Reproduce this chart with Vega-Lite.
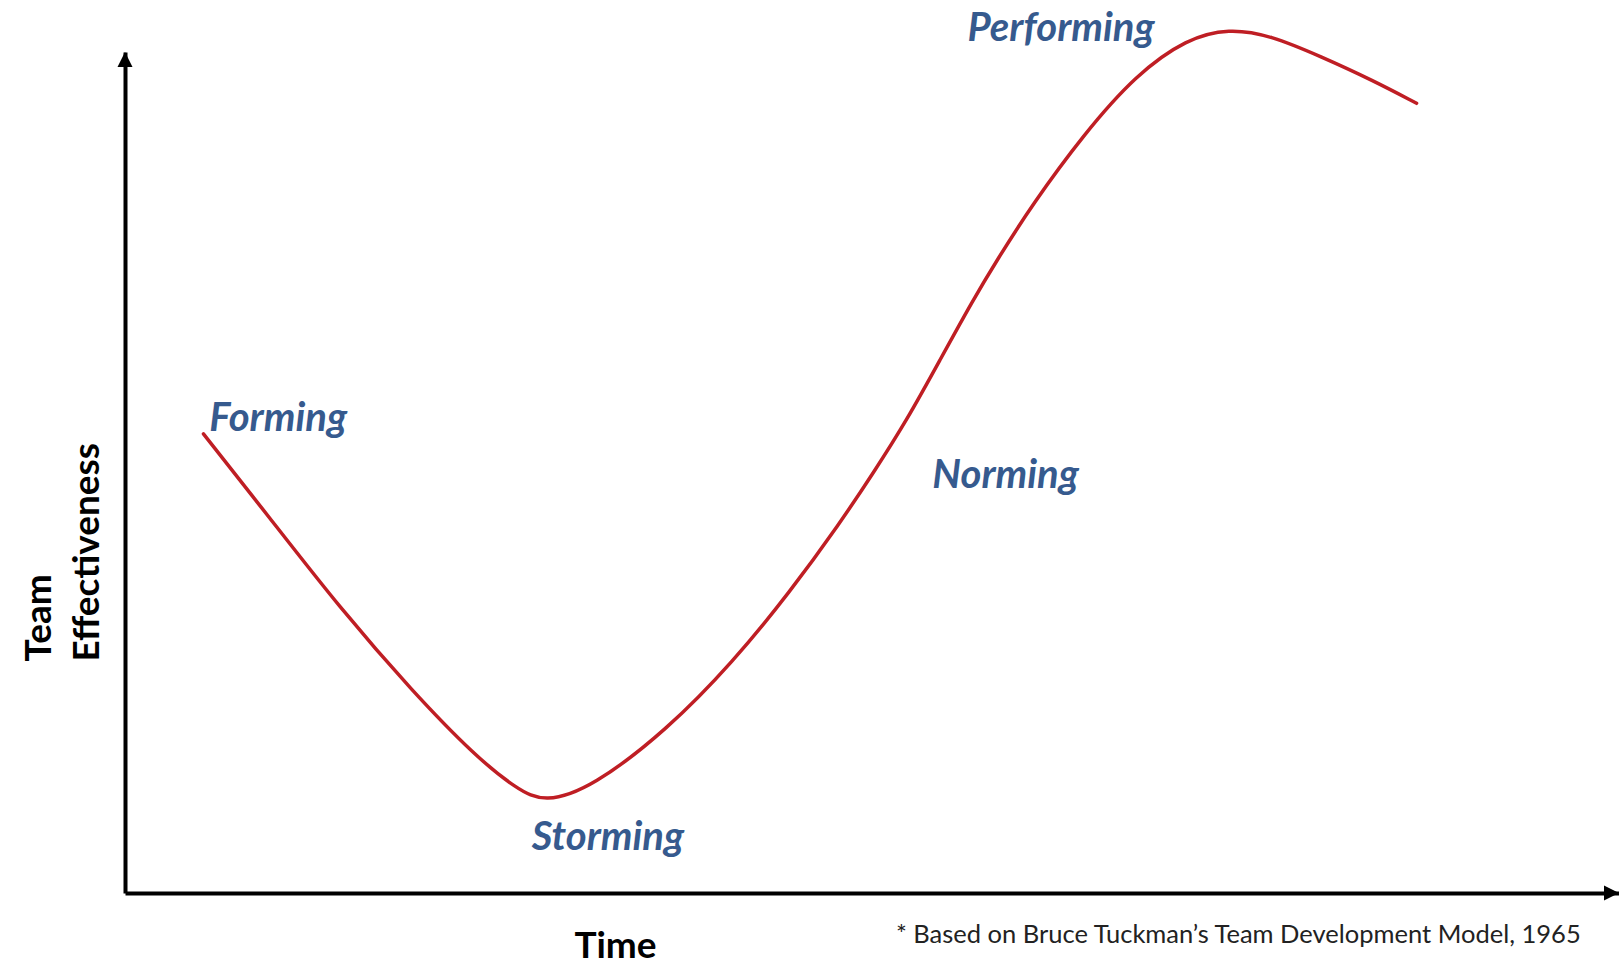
{
  "$schema": "https://vega.github.io/schema/vega-lite/v6.json",
  "width": 1494,
  "height": 841,
  "autosize": {"type": "none"},
  "padding": {"left": 125, "top": 52, "right": 0, "bottom": 73},
  "background": "white",
  "config": {"view": {"stroke": null}},
  "layer": [
    {
      "data": {"values": [
        {"t": 5.25, "e": 54.6}, {"t": 9.6, "e": 44.8}, {"t": 14.44, "e": 33.75},
        {"t": 19.28, "e": 23.9}, {"t": 23.43, "e": 16.3}, {"t": 26.19, "e": 12.4},
        {"t": 28.1, "e": 10.7}, {"t": 31.3, "e": 12.6},
        {"t": 36.28, "e": 19.38}, {"t": 40.7, "e": 27.47}, {"t": 44.51, "e": 35.8},
        {"t": 47.86, "e": 44.0}, {"t": 50.07, "e": 49.9}, {"t": 52.34, "e": 56.24},
        {"t": 54.55, "e": 63.38}, {"t": 56.76, "e": 70.51}, {"t": 58.37, "e": 75.27},
        {"t": 60.71, "e": 81.81}, {"t": 64.19, "e": 90.25}, {"t": 67.67, "e": 97.3},
        {"t": 71.08, "e": 101.6}, {"t": 73.9, "e": 102.8},
        {"t": 76.64, "e": 102.0}, {"t": 80.09, "e": 99.43}, {"t": 83.55, "e": 96.6},
        {"t": 86.45, "e": 93.9}
      ]},
      "mark": {"type": "line", "color": "#bf1e24", "strokeWidth": 3.5, "interpolate": "basis", "strokeCap": "round"},
      "encoding": {
        "x": {"field": "t", "type": "quantitative", "scale": {"domain": [0, 100], "nice": false, "zero": false},
          "axis": {"title": "Time", "domain": true, "domainColor": "black", "domainWidth": 4, "ticks": false, "labels": false, "grid": false,
            "titleFont": "Lato", "titleFontSize": 37, "titleFontWeight": "bold", "titleColor": "black",
            "titleX": 490, "titleY": 64, "titleAlign": "center", "titleBaseline": "alphabetic"}},
        "y": {"field": "e", "type": "quantitative", "scale": {"domain": [0, 100], "nice": false, "zero": false},
          "axis": {"title": ["Team", "Effectiveness"], "domain": true, "domainColor": "black", "domainWidth": 4, "ticks": false, "labels": false, "grid": false,
            "titleFont": "Lato", "titleFontSize": 37, "titleFontWeight": "bold", "titleColor": "black",
            "titleAngle": 270, "titleX": -75, "titleY": 609, "titleAlign": "left", "titleBaseline": "alphabetic", "titleLineHeight": 48}}
      }
    },
    {
      "data": {"values": [
        {"t": 5.64, "e": 54.98, "label": "Forming"},
        {"t": 27.22, "e": 5.15, "label": "Storming"},
        {"t": 54.04, "e": 48.11, "label": "Norming"},
        {"t": 56.39, "e": 101.3, "label": "Performing"}
      ]},
      "mark": {"type": "text", "align": "left", "baseline": "alphabetic", "font": "Lato", "fontSize": 40, "fontWeight": "bold", "fontStyle": "italic", "color": "#365a8e"},
      "encoding": {
        "x": {"field": "t", "type": "quantitative"},
        "y": {"field": "e", "type": "quantitative"},
        "text": {"field": "label"}
      }
    },
    {
      "data": {"values": [{"t": 0, "e": 100}]},
      "mark": {"type": "point", "shape": "M0,0L0.5,1L-0.5,1Z", "size": 900, "filled": true, "color": "black", "opacity": 1},
      "encoding": {
        "x": {"field": "t", "type": "quantitative"},
        "y": {"field": "e", "type": "quantitative"}
      }
    },
    {
      "data": {"values": [{"t": 100, "e": 0}]},
      "mark": {"type": "point", "shape": "M0,0L-1,-0.5L-1,0.5Z", "size": 900, "filled": true, "color": "black", "opacity": 1},
      "encoding": {
        "x": {"field": "t", "type": "quantitative"},
        "y": {"field": "e", "type": "quantitative"}
      }
    },
    {
      "data": {"values": [{"t": 51.6, "e": -5.95, "note": "* Based on Bruce Tuckman’s Team Development Model, 1965"}]},
      "mark": {"type": "text", "align": "left", "baseline": "alphabetic", "font": "Lato", "fontSize": 25.5, "color": "#222222"},
      "encoding": {
        "x": {"field": "t", "type": "quantitative"},
        "y": {"field": "e", "type": "quantitative"},
        "text": {"field": "note"}
      }
    }
  ]
}
